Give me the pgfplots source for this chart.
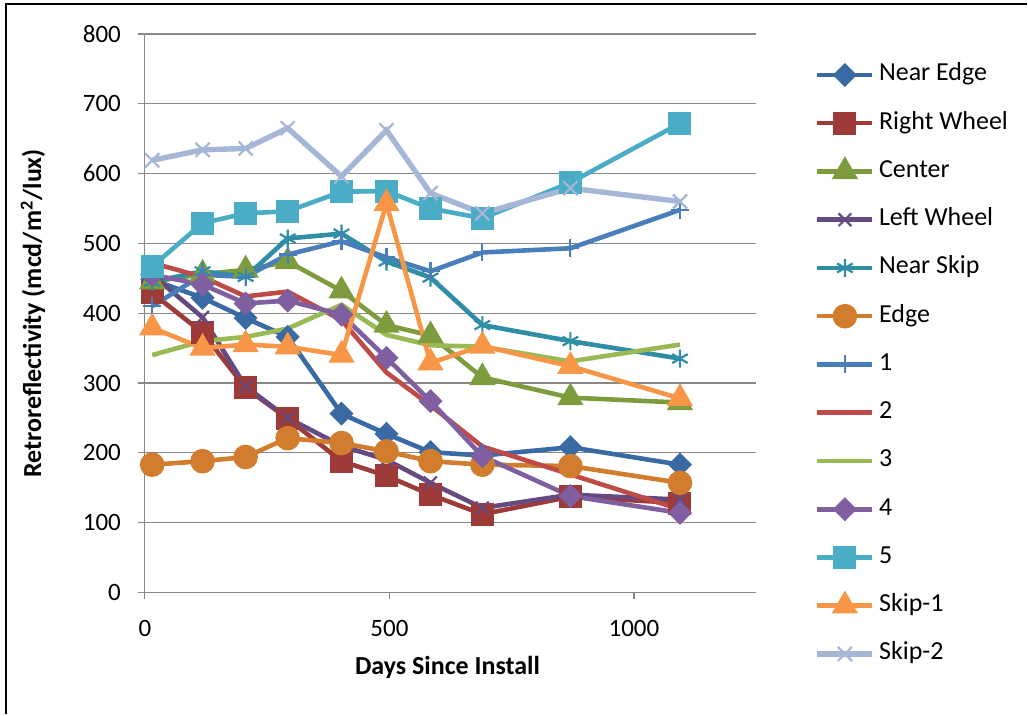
\documentclass[border=0pt]{standalone}
\usepackage{pgfplots}
\pgfplotsset{compat=1.18}
\usepackage{pgfplotstable}
\usepackage{fontspec}
\setmainfont{Carlito}
\usetikzlibrary{plotmarks}
\definecolor{cNE}{HTML}{3A6AA3}
\definecolor{cRW}{HTML}{9E3B38}
\definecolor{cCe}{HTML}{7D9C3E}
\definecolor{cLW}{HTML}{654A82}
\definecolor{cNS}{HTML}{2F8EA6}
\definecolor{cEd}{HTML}{D27D2D}
\definecolor{cA}{HTML}{4A7EBB}
\definecolor{cB}{HTML}{BE4B48}
\definecolor{cC}{HTML}{98B954}
\definecolor{cD}{HTML}{7F5FA0}
\definecolor{cE}{HTML}{4BACC6}
\definecolor{cS1}{HTML}{F79646}
\definecolor{cS2}{HTML}{A5B6D6}
\definecolor{gridgray}{HTML}{898989}
\pgfplotstableread{
day NearEdge RightWheel Center LeftWheel NearSkip Edge S1 S2 S3 S4 S5 Skip1 Skip2
15 448 429 445 455 445 183 410 472 340 455 467 379 619
118 422 372 456 394 460 188 455 452 360 441 529 350 634
206 393 293 462 295 452 194 452 424 366 414 543 355 636
292 366 249 474 250 507 221 484 431 378 418 546 352 665
402 256 188 432 210 514 214 503 390 412 398 574 340 596
494 227 167 383 190 474 202 480 315 369 336 575 557 662
584 201 140 368 157 451 188 460 268 354 274 550 329 572
690 196 112 308 121 383 183 487 209 352 195 536 353 543
870 208 137 279 140 360 181 493 169 331 138 587 324 579
1094 183 128 272 133 335 157 548 119 355 114 672 278 560
}\data
\begin{document}
\begin{tikzpicture}
\path (0,0) rectangle (514pt,357.5pt);
\draw[black, line width=1pt] (3pt,0) -- (3pt,355.5pt) -- (514pt,355.5pt);
\begin{axis}[
  at={(72.5pt,61pt)}, anchor=south west,
  scale only axis, width=306pt, height=279.5pt,
  xmin=0, xmax=1250, ymin=0, ymax=800,
  xtick={0,500,1000}, ytick={0,100,...,800},
  axis lines*=left,
  axis line style={gridgray, line width=0.6pt},
  tick style={gridgray, line width=0.6pt},
  tick align=outside, major tick length=3.5pt,
  ymajorgrids, grid style={gridgray, line width=0.6pt},
  /pgf/number format/assume math mode=true,
  /pgf/number format/1000 sep={},
  ticklabel style={font=\fontsize{12.5}{14}\selectfont, text=black},
  yticklabel style={xshift=-5pt},
  xticklabel style={yshift=-7pt},
  xlabel={\textbf{Days Since Install}},
  ylabel={\textbf{Retroreflectivity (mcd/m\textsuperscript{2}/lux)}},
  label style={font=\fontsize{13}{15}\selectfont},
  xlabel style={at={(axis description cs:0.495,-0.134)}, anchor=center},
  ylabel style={at={(axis description cs:-0.183,0.5)}, anchor=center, rotate=0},
  every axis plot/.append style={line width=2.3pt, mark options={solid, line width=0.8pt}},
  legend image code/.code={\draw[mark repeat=2,mark phase=2,#1] plot coordinates {(0pt,0pt)(13.75pt,0pt)(27.5pt,0pt)};},
  legend style={at={(1.095,0.956)}, anchor=north west, draw=none, fill=none, inner sep=0pt,
    font=\fontsize{13}{15}\selectfont, row sep=8.15pt,
    nodes={text height=9pt, text depth=3pt, inner sep=2pt},
    /tikz/every even column/.append style={column sep=0pt}},
  legend cell align=left,
  clip=false,
]
\addplot[cNE, mark=square*, mark size=3.1pt, mark options={fill=cNE, draw=cNE, rotate=45}] table[x=day,y=NearEdge]{\data};
\addlegendentry{Near Edge}
\addplot[cRW, mark=square*, mark size=4.6pt, mark options={fill=cRW, draw=cRW}] table[x=day,y=RightWheel]{\data};
\addlegendentry{Right Wheel}
\addplot[cCe, mark=triangle*, mark size=5.3pt, mark options={fill=cCe, draw=cCe}] table[x=day,y=Center]{\data};
\addlegendentry{Center}
\addplot[cLW, mark=x, mark size=4.5pt, mark options={draw=cLW, line width=1.1pt}] table[x=day,y=LeftWheel]{\data};
\addlegendentry{Left Wheel}
\addplot[cNS, mark=asterisk, mark size=4.5pt, mark options={draw=cNS, line width=1.1pt}] table[x=day,y=NearSkip]{\data};
\addlegendentry{Near Skip}
\addplot[cEd, mark=*, mark size=5pt, mark options={fill=cEd, draw=cEd}] table[x=day,y=Edge]{\data};
\addlegendentry{Edge}
\addplot[cA, mark=+, mark size=4.5pt, mark options={draw=cA, line width=1.1pt}] table[x=day,y=S1]{\data};
\addlegendentry{1}
\addplot[cB, no marks] table[x=day,y=S2]{\data};
\addlegendentry{2}
\addplot[cC, no marks] table[x=day,y=S3]{\data};
\addlegendentry{3}
\addplot[cD, mark=square*, mark size=3.1pt, mark options={fill=cD, draw=cD, rotate=45}] table[x=day,y=S4]{\data};
\addlegendentry{4}
\addplot[cE, mark=square*, mark size=4.6pt, mark options={fill=cE, draw=cE}] table[x=day,y=S5]{\data};
\addlegendentry{5}
\addplot[cS1, mark=triangle*, mark size=5.3pt, mark options={fill=cS1, draw=cS1}] table[x=day,y=Skip1]{\data};
\addlegendentry{Skip-1}
\addplot[cS2, line width=2.7pt, mark=x, mark size=5pt, mark options={draw=cS2, line width=1.1pt}] table[x=day,y=Skip2]{\data};
\addlegendentry{Skip-2}
\end{axis}
\end{tikzpicture}
\end{document}
